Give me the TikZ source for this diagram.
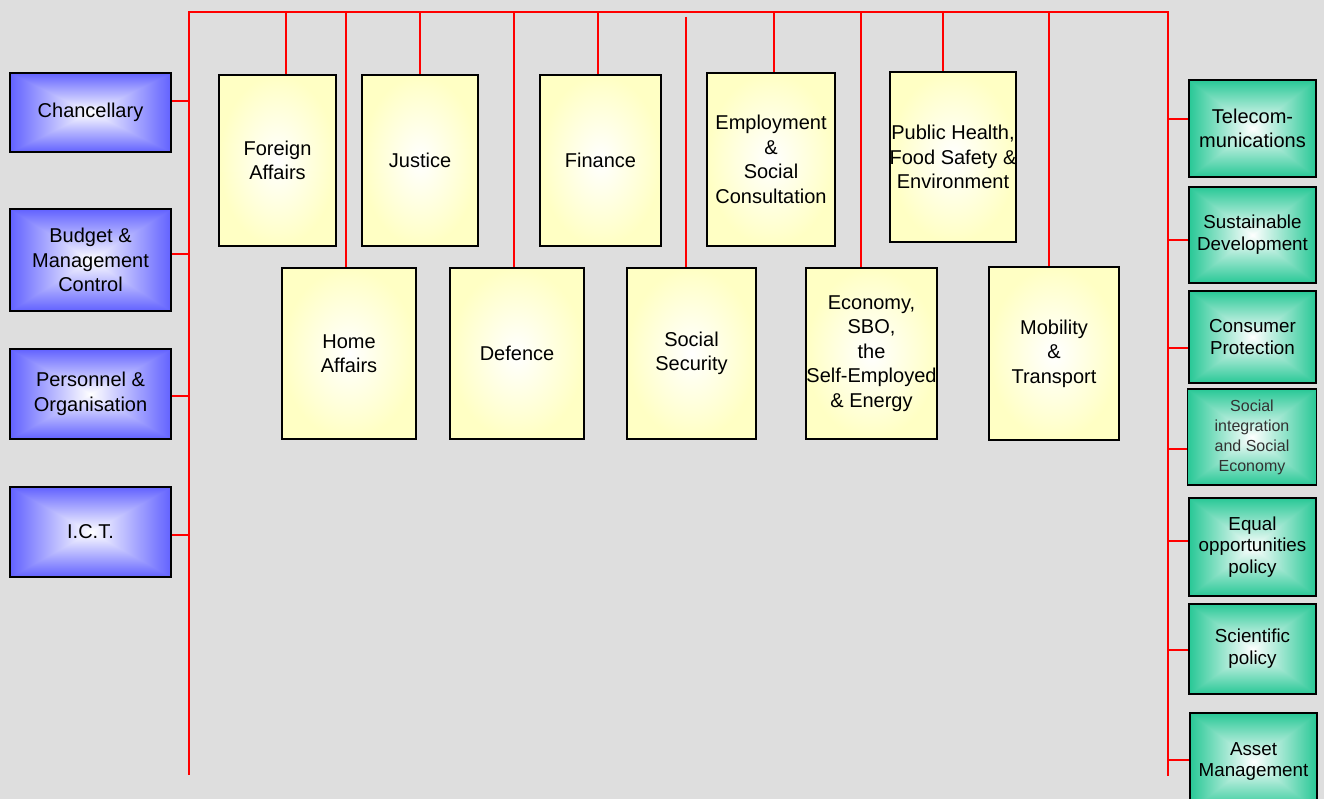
\documentclass[tikz,border=0pt]{standalone}
\usepackage{fontspec}
\setmainfont{Liberation Sans}
\definecolor{bgc}{RGB}{222,222,222}
\definecolor{boxyellow}{RGB}{255,255,196}
\definecolor{txtgray}{RGB}{50,50,50}
\pgfdeclarefunctionalshading{pyrblue}{\pgfpoint{-50bp}{-50bp}}{\pgfpoint{50bp}{50bp}}{}{
  abs exch abs 2 copy lt {exch} if pop 25 div dup 1 gt {pop 1} if
  dup 0.616 mul 1 exch sub exch dup 0.616 mul 1 exch sub exch 0 mul 1 exch sub
}
\pgfdeclarefunctionalshading{pyrgreen}{\pgfpoint{-50bp}{-50bp}}{\pgfpoint{50bp}{50bp}}{}{
  abs exch abs 2 copy lt {exch} if pop 25 div dup 1 gt {pop 1} if
  dup 0.843 mul 1 exch sub exch dup 0.216 mul 1 exch sub exch 0.412 mul 1 exch sub
}
\begin{document}
\begin{tikzpicture}[x=1pt,y=-1pt,
  spine/.style={draw=red, line width=2pt},
  box/.style={draw=black, line width=1.8pt, inner sep=0pt, align=center,
    font=\fontsize{20}{24.5}\selectfont},
  bluebox/.style={box, shading=pyrblue},
  greenbox/.style={box, shading=pyrgreen, font=\fontsize{18.8}{21.8}\selectfont},
  yellowbox/.style={box, shading=radial, inner color=white, outer color=boxyellow},
]
\useasboundingbox (0,0) rectangle (1324,799);
\fill[bgc] (0,0) rectangle (1324,799);

% spine
\coordinate (TL) at (189,12);
\coordinate (TR) at (1168,12);
\coordinate (BL) at (189,775);
\coordinate (BR) at (1168,776);
\draw[spine] (BL) -- (TL) -- (TR) -- (BR);

% left boxes
\node[bluebox, minimum width=161pt, minimum height=79pt] (chan) at (90.5,112.5) {Chancellary};
\node[bluebox, minimum width=161pt, minimum height=102pt] (budg) at (90.5,260) {Budget \&\\Management\\Control};
\node[bluebox, minimum width=161pt, minimum height=90pt] (pers) at (90.5,394) {Personnel \&\\Organisation};
\node[bluebox, minimum width=161pt, minimum height=90pt] (ict) at (90.5,532) {I.C.T.};

% yellow boxes top row
\node[yellowbox, minimum width=117pt, minimum height=171pt] (fa) at (277.5,160.5) {Foreign\\Affairs};
\node[yellowbox, minimum width=116pt, minimum height=171pt] (ju) at (420,160.5) {Justice};
\node[yellowbox, minimum width=121pt, minimum height=171pt] (fi) at (600.5,160.5) {Finance};
\node[yellowbox, minimum width=128pt, minimum height=173pt] (em) at (771,159.5) {Employment\\\&\\Social\\Consultation};
\node[yellowbox, minimum width=126pt, minimum height=170pt] (ph) at (953,157) {Public Health,\\Food Safety \&\\Environment};
% yellow boxes bottom row
\node[yellowbox, minimum width=134pt, minimum height=171pt] (ha) at (349,353.5) {Home\\Affairs};
\node[yellowbox, minimum width=134pt, minimum height=171pt] (de) at (517,353.5) {Defence};
\node[yellowbox, minimum width=129pt, minimum height=171pt] (ss) at (691.5,353.5) {Social\\Security};
\node[yellowbox, minimum width=131pt, minimum height=171pt] (ec) at (871.5,353.5) {Economy,\\SBO,\\the\\Self-Employed\\\& Energy};
\node[yellowbox, minimum width=130pt, minimum height=173pt] (mo) at (1054,353.5) {Mobility\\\&\\Transport};

% green boxes
\node[greenbox, minimum width=127pt, minimum height=97pt, font=\fontsize{20}{24.5}\selectfont] (tel) at (1252.5,128.5) {Telecom-\\munications};
\node[greenbox, minimum width=127pt, minimum height=96pt] (sus) at (1252.5,235) {Sustainable\\Development};
\node[greenbox, minimum width=127pt, minimum height=92pt] (con) at (1252.5,337) {Consumer\\Protection};
\node[greenbox, minimum width=129pt, minimum height=96pt, font=\fontsize{16}{20}\selectfont, text=txtgray] (soc) at (1252,437) {Social\\integration\\and Social\\Economy};
\node[greenbox, minimum width=127pt, minimum height=98pt] (equ) at (1252.5,547) {Equal\\opportunities\\policy};
\node[greenbox, minimum width=127pt, minimum height=90pt] (sci) at (1252.5,649) {Scientific\\policy};
\node[greenbox, minimum width=127pt, minimum height=97pt] (ass) at (1253.5,761.5) {Asset\\Management};

% left connectors
\coordinate (l1) at (189,101);
\coordinate (l2) at (189,254);
\coordinate (l3) at (189,396);
\coordinate (l4) at (189,535);
\draw[spine] (l1) -- (l1 -| chan.east);
\draw[spine] (l2) -- (l2 -| budg.east);
\draw[spine] (l3) -- (l3 -| pers.east);
\draw[spine] (l4) -- (l4 -| ict.east);

% top connectors
\coordinate (t1) at (286,12);
\coordinate (t2) at (420,12);
\coordinate (t3) at (598,12);
\coordinate (t4) at (774,12);
\coordinate (t5) at (943,12);
\coordinate (t6) at (346,12);
\coordinate (t7) at (514,12);
\coordinate (t8) at (686,17);
\coordinate (t9) at (861,12);
\coordinate (t10) at (1049,12);
\draw[spine] (t1) -- (t1 |- fa.north);
\draw[spine] (t2) -- (t2 |- ju.north);
\draw[spine] (t3) -- (t3 |- fi.north);
\draw[spine] (t4) -- (t4 |- em.north);
\draw[spine] (t5) -- (t5 |- ph.north);
\draw[spine] (t6) -- (t6 |- ha.north);
\draw[spine] (t7) -- (t7 |- de.north);
\draw[spine] (t8) -- (t8 |- ss.north);
\draw[spine] (t9) -- (t9 |- ec.north);
\draw[spine] (t10) -- (t10 |- mo.north);

% right connectors
\coordinate (r1) at (1168,119);
\coordinate (r2) at (1168,240);
\coordinate (r3) at (1168,348);
\coordinate (r4) at (1168,449);
\coordinate (r5) at (1168,541);
\coordinate (r6) at (1168,650);
\coordinate (r7) at (1168,760);
\draw[spine] (r1) -- (r1 -| tel.west);
\draw[spine] (r2) -- (r2 -| sus.west);
\draw[spine] (r3) -- (r3 -| con.west);
\draw[spine] (r4) -- (r4 -| soc.west);
\draw[spine] (r5) -- (r5 -| equ.west);
\draw[spine] (r6) -- (r6 -| sci.west);
\draw[spine] (r7) -- (r7 -| ass.west);
\end{tikzpicture}
\end{document}
